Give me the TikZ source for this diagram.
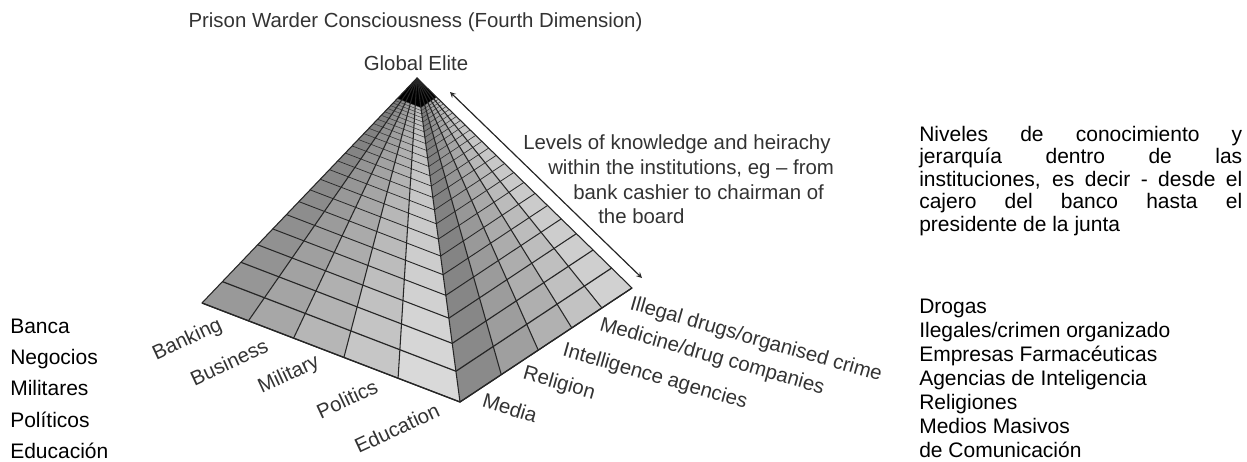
\documentclass[tikz,border=0pt]{standalone}
\usepackage{fontspec}
\setmainfont{Liberation Sans}
\usetikzlibrary{calc, arrows}
\tikzstyle{arrow} = [line width=0.9pt,<->,>=stealth,draw=black!85]
\tikzstyle{grid line} = [draw=black!85, line width=0.8pt]
\tikzstyle{engtext} = [inner sep=0pt, text=black!80, font=\fontsize{15.3}{18}\selectfont]
\tikzstyle{esptext} = [inner sep=0pt, anchor=base west, font=\fontsize{15.75}{18}\selectfont]

\begin{document}
\begin{tikzpicture}[x=0.75pt, y=-0.75pt]
\useasboundingbox (0,0) rectangle (1247,461);

% corners of the pyramid
\coordinate (apex) at (417,78);
\coordinate (lft) at (202,303);
\coordinate (frt) at (460,402);
\coordinate (rgt) at (632,288);

% divisions along the two bases
\foreach \s [count=\j from 0] in {0,.18,.355,.55,.76,1}
    \coordinate (lb\j) at ($(lft)!\s!(frt)$);
\foreach \s [count=\j from 0] in {0,.24,.455,.65,.825,1}
    \coordinate (rb\j) at ($(frt)!\s!(rgt)$);

% shaded cells, a little darker to the top
\foreach \k in {0,...,23}{
    \pgfmathsetmacro\ta{0.905^\k}
    \pgfmathsetmacro\tb{0.905^(\k+1)}
    \foreach \j/\sl/\sr in {0/.09/.12, 1/.27/.35, 2/.45/.55, 3/.65/.74, 4/.88/.91}{
        \pgfmathtruncatemacro\jj{\j+1}
        \pgfmathsetmacro\gl{43-32*\sl+12*(1-\ta)}
        \pgfmathsetmacro\gr{50-35*\sr+6*(1-\ta)}
        \fill[black!\gl] ($(apex)!\ta!(lb\j)$) -- ($(apex)!\ta!(lb\jj)$)
            -- ($(apex)!\tb!(lb\jj)$) -- ($(apex)!\tb!(lb\j)$) -- cycle;
        \fill[black!\gr] ($(apex)!\ta!(rb\j)$) -- ($(apex)!\ta!(rb\jj)$)
            -- ($(apex)!\tb!(rb\jj)$) -- ($(apex)!\tb!(rb\j)$) -- cycle;
    }
}

% black cap
\pgfmathsetmacro\tc{0.905^24}
\fill[black] (apex) -- ($(apex)!\tc!(lft)$) -- ($(apex)!\tc!(frt)$)
    -- ($(apex)!\tc!(rgt)$) -- cycle;

% levels
\foreach \k in {0,...,24}{
    \pgfmathsetmacro\ta{0.905^\k}
    \pgfmathsetmacro\lw{0.2+0.8*\ta}
    \draw[grid line, line width=\lw pt] ($(apex)!\ta!(lft)$) -- ($(apex)!\ta!(frt)$)
        -- ($(apex)!\ta!(rgt)$);
}

% institutions
\foreach \j in {1,...,4}
    \draw[grid line] (apex) -- (lb\j) (apex) -- (rb\j);
\draw[grid line, line join=round] (apex) -- (lft) -- (frt) -- (rgt) -- cycle
    (apex) -- (frt);

% titles
\node[engtext, anchor=base] (prison) at (415.5,27.5) {Prison Warder Consciousness (Fourth Dimension)};
\node[engtext, anchor=base] (elite) at (416,70) {Global Elite};

% hierarchy arrow and its text
\coordinate (arrtop) at (450,92);
\coordinate (arrbot) at (642,278);
\draw[arrow] (arrtop) -- (arrbot);
\node[engtext, anchor=base west] (levels1) at (523,149) {Levels of knowledge and heirachy};
\node[engtext, anchor=base west] (levels2) at (548,174) {within the institutions, eg – from};
\node[engtext, anchor=base west] (levels3) at (573,199) {bank cashier to chairman of};
\node[engtext, anchor=base west] (levels4) at (598,223) {the board};

% institutions, left face
\node[engtext, rotate=25] (banking) at (187.5,340) {Banking};
\node[engtext, rotate=25] (business) at (229,362) {Business};
\node[engtext, rotate=25] (military) at (289,375) {Military};
\node[engtext, rotate=25] (politics) at (347,399) {Politics};
\node[engtext, rotate=25] (education) at (397,428) {Education};

% institutions, right face
\node[engtext, rotate=-17] (media) at (510,408) {Media};
\node[engtext, rotate=-16] (religion) at (559,384) {Religion};
\node[engtext, rotate=-16] (intelligence) at (655,377) {Intelligence agencies};
\node[engtext, rotate=-16] (medicine) at (712,357) {Medicine/drug companies};
\node[engtext, rotate=-16] (drugs) at (756,340) {Illegal drugs/organised crime};

% spanish, left
\foreach \t [count=\i] in {Banca, Negocios, Militares, Políticos, Educación}
    \node[esptext] (esleft\i) at (10,{302+31.3*\i}) {\t};

% spanish, right
\node[esptext] (niveles1) at (919,141) {\makebox[242.25pt][s]{Niveles de conocimiento y}};
\node[esptext] (niveles2) at (919,163.5) {\makebox[242.25pt][s]{jerarquía dentro de las}};
\node[esptext] (niveles3) at (919,186) {\makebox[242.25pt][s]{instituciones, es decir - desde el}};
\node[esptext] (niveles4) at (919,208.5) {\makebox[242.25pt][s]{cajero del banco hasta el}};
\node[esptext] (niveles5) at (919,231) {presidente de la junta};
\foreach \t [count=\i] in {Drogas, Ilegales/crimen organizado, Empresas Farmacéuticas,
        Agencias de Inteligencia, Religiones, Medios Masivos, de Comunicación}
    \node[esptext] (esright\i) at (919,{289+24*\i}) {\t};

\end{tikzpicture}
\end{document}
